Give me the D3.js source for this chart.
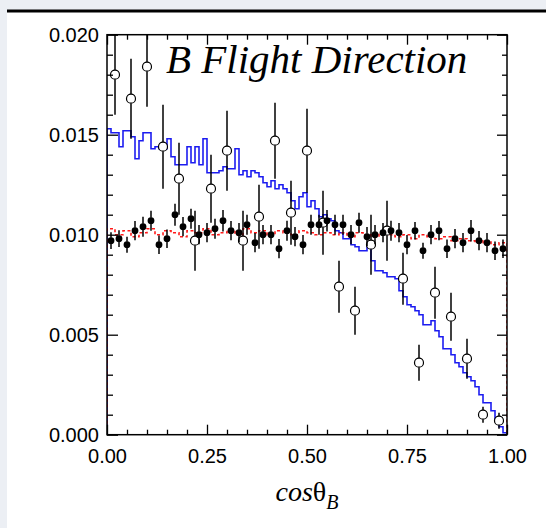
<!DOCTYPE html>
<html>
<head>
<meta charset="utf-8">
<script src="https://cdn.jsdelivr.net/npm/d3@7"></script>
<style>
  html, body { margin: 0; padding: 0; background: #ffffff; }
  svg { display: block; }
</style>
</head>
<body>
<svg id="chart" width="546" height="528"></svg>
<script>
// Simulated B flight-direction distribution (blue), 100 bins of width 0.01
const mcBins = [
  0.0153, 0.0151, 0.0151, 0.0144, 0.0152, 0.0152, 0.0149, 0.0138, 0.0147, 0.0151,
  0.0151, 0.0143, 0.0144, 0.0143, 0.0143, 0.0148, 0.0139, 0.0135, 0.0135, 0.0135,
  0.0144, 0.0136, 0.0144, 0.0135, 0.0148, 0.0131, 0.0131, 0.0131, 0.0132, 0.0134,
  0.0133, 0.0133, 0.0143, 0.0130, 0.0132, 0.0129, 0.0132, 0.0131, 0.0129, 0.0126,
  0.0124, 0.0127, 0.0123, 0.0125, 0.0123, 0.0121, 0.0117, 0.0113, 0.0119, 0.0121,
  0.0114, 0.0117, 0.0113, 0.0109, 0.0110, 0.0108, 0.0107, 0.0102, 0.0101, 0.0098,
  0.0098, 0.0095, 0.0094, 0.0092, 0.0092, 0.0095, 0.0087, 0.0082, 0.0082, 0.0081,
  0.0079, 0.0079, 0.0078, 0.0072, 0.0069, 0.0065, 0.0064, 0.0062, 0.0060, 0.0055,
  0.0055, 0.0057, 0.0052, 0.0049, 0.0043, 0.0043, 0.0040, 0.0036, 0.0034, 0.0031,
  0.0029, 0.0027, 0.0024, 0.0020, 0.0016, 0.0016, 0.0012, 0.0007, 0.0004, 0.0001
];

// Flat reference distribution (red dotted), 50 bins of width 0.02
const flatBins = [
  0.0103, 0.0100, 0.0102, 0.0099, 0.0101, 0.0103, 0.0100, 0.0102, 0.0101, 0.0099,
  0.0102, 0.0101, 0.0103, 0.0100, 0.0101, 0.0102, 0.0100, 0.0103, 0.0101, 0.0102,
  0.0100, 0.0102, 0.0101, 0.0100, 0.0102, 0.0101, 0.0100, 0.0101, 0.0100, 0.0101,
  0.0099, 0.0101, 0.0100, 0.0099, 0.0101, 0.0100, 0.0099, 0.0100, 0.0098, 0.0100,
  0.0099, 0.0098, 0.0099, 0.0097, 0.0098, 0.0097, 0.0096, 0.0097, 0.0095, 0.0096
];

// Filled points: 50 bins of width 0.02
const filledVals = [
  0.0097, 0.0098, 0.0095, 0.0102, 0.0104, 0.0107, 0.0095, 0.0098, 0.0110, 0.0104,
  0.0108, 0.0100, 0.0101, 0.0103, 0.0107, 0.0102, 0.0101, 0.0105, 0.0096, 0.0100,
  0.0100, 0.0093, 0.0102, 0.0099, 0.0095, 0.0105, 0.0105, 0.0107, 0.0105, 0.0105,
  0.0100, 0.0106, 0.0099, 0.0100, 0.0101, 0.0102, 0.0101, 0.0095, 0.0102, 0.0092,
  0.0100, 0.0102, 0.0093, 0.0098, 0.0096, 0.0102, 0.0097, 0.0096, 0.0092, 0.0093
];
const filledErrs = [
  0.00042, 0.00042, 0.00040, 0.00048, 0.00050, 0.00050, 0.00046, 0.00046, 0.00055, 0.00048,
  0.00050, 0.00048, 0.00048, 0.00050, 0.00054, 0.00048, 0.00048, 0.00050, 0.00048, 0.00048,
  0.00048, 0.00048, 0.00050, 0.00048, 0.00048, 0.00050, 0.00050, 0.00054, 0.00050, 0.00050,
  0.00048, 0.00050, 0.00048, 0.00048, 0.00048, 0.00050, 0.00048, 0.00048, 0.00044, 0.00040,
  0.00048, 0.00048, 0.00046, 0.00048, 0.00048, 0.00054, 0.00048, 0.00048, 0.00046, 0.00046
];

// Open points: 25 bins of width 0.04
const openVals = [
  0.0180, 0.0168, 0.0184, 0.0144, 0.0128, 0.0097, 0.0123, 0.0142, 0.0097, 0.0109,
  0.0147, 0.0111, 0.0142, 0.0106, 0.0074, 0.0062, 0.0095, 0.0102, 0.0078, 0.0036,
  0.0071, 0.0059, 0.0038, 0.0010, 0.0007
];
const openErrs = [
  0.0020, 0.0020, 0.0020, 0.0021, 0.0018, 0.0015, 0.0017, 0.0020, 0.0015, 0.0016,
  0.0019, 0.0016, 0.0021, 0.0016, 0.0013, 0.0012, 0.0015, 0.0015, 0.0013, 0.0009,
  0.0013, 0.0012, 0.0010, 0.0004, 0.0004
];

const xMajorTicks = [0, 0.25, 0.5, 0.75, 1];
const xTickLabels = ["0.00", "0.25", "0.50", "0.75", "1.00"];
const yMajorTicks = [0, 0.005, 0.010, 0.015, 0.020];
const yTickLabels = ["0.000", "0.005", "0.010", "0.015", "0.020"];
const titleText = "B Flight Direction";

const svg = d3.select("#chart");
const W = 546, H = 528;

// Page frame: grey margin, dark rule, white panel
svg.append("rect").attr("x", 0).attr("y", 0).attr("width", W).attr("height", H).attr("fill", "#eceff4");
svg.append("rect").attr("x", 7).attr("y", 10).attr("width", W - 7).attr("height", H - 10).attr("fill", "#ffffff");
svg.append("rect").attr("x", 7).attr("y", 9.5).attr("width", W - 7).attr("height", 3).attr("fill", "#000000");

const pLeft = 107, pRight = 507, pTop = 34.7, pBottom = 434.7;
const x = d3.scaleLinear().domain([0, 1]).range([pLeft, pRight]);
const y = d3.scaleLinear().domain([0, 0.02]).range([pBottom, pTop]);

svg.append("defs").append("clipPath").attr("id", "plotArea")
  .append("rect").attr("x", pLeft).attr("y", pTop).attr("width", pRight - pLeft).attr("height", pBottom - pTop);

const plot = svg.append("g").attr("clip-path", "url(#plotArea)");

// Step outline for a histogram with equal-width bins over [0,1]
function stepPoints(bins) {
  const n = bins.length, w = 1 / n;
  const pts = [[0, 0]];
  bins.forEach((v, i) => { pts.push([i * w, v]); pts.push([(i + 1) * w, v]); });
  pts.push([1, 0]);
  return pts;
}
const lineGen = d3.line().x(d => x(d[0])).y(d => y(d[1]));

plot.append("path").attr("d", lineGen(stepPoints(mcBins)))
  .attr("fill", "none").attr("stroke", "#1c1cf0").attr("stroke-width", 1.6);

plot.append("path").attr("d", lineGen(stepPoints(flatBins)))
  .attr("fill", "none").attr("stroke", "#ff1a1a").attr("stroke-width", 1.6)
  .attr("stroke-dasharray", "3,2.5");

// Error bars, drawn as two segments outside the marker
function errorBars(g, data, r) {
  g.selectAll(null).data(data).enter().append("line")
    .attr("x1", d => x(d.c)).attr("x2", d => x(d.c))
    .attr("y1", d => y(d.v + d.e)).attr("y2", d => Math.max(y(d.v) - r, y(d.v + d.e)))
    .attr("stroke", "#000").attr("stroke-width", 1.5);
  g.selectAll(null).data(data).enter().append("line")
    .attr("x1", d => x(d.c)).attr("x2", d => x(d.c))
    .attr("y1", d => Math.min(y(d.v) + r, y(d.v - d.e))).attr("y2", d => y(d.v - d.e))
    .attr("stroke", "#000").attr("stroke-width", 1.5);
}

const openData = openVals.map((v, i) => ({ c: (i + 0.5) / openVals.length, v, e: openErrs[i] }));
const filledData = filledVals.map((v, i) => ({ c: (i + 0.5) / filledVals.length, v, e: filledErrs[i] }));

const gOpen = plot.append("g");
errorBars(gOpen, openData, 4.5);
gOpen.selectAll("circle").data(openData).enter().append("circle")
  .attr("cx", d => x(d.c)).attr("cy", d => y(d.v)).attr("r", 4.5)
  .attr("fill", "#fff").attr("stroke", "#000").attr("stroke-width", 1.2);

const gFilled = plot.append("g");
errorBars(gFilled, filledData, 3);
gFilled.selectAll("circle").data(filledData).enter().append("circle")
  .attr("cx", d => x(d.c)).attr("cy", d => y(d.v)).attr("r", 3.4)
  .attr("fill", "#000");

// Axes: major and minor ticks pointing inward on all four sides
const xMinor = d3.range(0, 1.0001, 0.05).map(v => +v.toFixed(2)).filter(v => !xMajorTicks.includes(v));
const yMinor = d3.range(0, 0.02001, 0.001).map(v => +v.toFixed(3)).filter(v => !yMajorTicks.some(t => Math.abs(t - v) < 1e-9));

function styleAxis(g) {
  g.select(".domain").remove();
  g.selectAll(".tick line").attr("stroke", "#000").attr("stroke-width", 1.3);
  g.selectAll(".tick text").attr("fill", "#000")
    .style("font-family", "'Liberation Sans', Arial, sans-serif").style("font-size", "20px");
}

svg.append("g").attr("transform", `translate(0,${pBottom})`)
  .call(d3.axisBottom(x).tickValues(xMajorTicks).tickSize(-10).tickPadding(14)
    .tickFormat((d, i) => xTickLabels[i]))
  .call(styleAxis);
svg.append("g").attr("transform", `translate(0,${pBottom})`)
  .call(d3.axisBottom(x).tickValues(xMinor).tickSize(-5).tickFormat(""))
  .call(styleAxis);
svg.append("g").attr("transform", `translate(0,${pTop})`)
  .call(d3.axisTop(x).tickValues(xMajorTicks).tickSize(-10).tickFormat(""))
  .call(styleAxis);
svg.append("g").attr("transform", `translate(0,${pTop})`)
  .call(d3.axisTop(x).tickValues(xMinor).tickSize(-5).tickFormat(""))
  .call(styleAxis);

svg.append("g").attr("transform", `translate(${pLeft},0)`)
  .call(d3.axisLeft(y).tickValues(yMajorTicks).tickSize(-11).tickPadding(8)
    .tickFormat((d, i) => yTickLabels[i]))
  .call(styleAxis);
svg.append("g").attr("transform", `translate(${pLeft},0)`)
  .call(d3.axisLeft(y).tickValues(yMinor).tickSize(-6).tickFormat(""))
  .call(styleAxis);
svg.append("g").attr("transform", `translate(${pRight},0)`)
  .call(d3.axisRight(y).tickValues(yMajorTicks).tickSize(-10).tickFormat(""))
  .call(styleAxis);
svg.append("g").attr("transform", `translate(${pRight},0)`)
  .call(d3.axisRight(y).tickValues(yMinor).tickSize(-5).tickFormat(""))
  .call(styleAxis);

// Frame
svg.append("rect").attr("x", pLeft).attr("y", pTop).attr("width", pRight - pLeft).attr("height", pBottom - pTop)
  .attr("fill", "none").attr("stroke", "#000").attr("stroke-width", 1.5);

// Title inside the frame
svg.append("text").attr("x", 166).attr("y", 73)
  .style("font-family", "'Liberation Serif', 'Times New Roman', serif")
  .style("font-style", "italic").style("font-size", "41px").attr("fill", "#000")
  .text(titleText);

// Axis title: cos θ_B
const xt = svg.append("text").attr("x", x(0.5)).attr("y", 501).attr("text-anchor", "middle")
  .style("font-family", "'Liberation Serif', 'Times New Roman', serif").style("font-size", "28px").attr("fill", "#000");
xt.append("tspan").style("font-style", "italic").text("cos");
xt.append("tspan").text("θ");
xt.append("tspan").style("font-style", "italic").style("font-size", "20px").attr("dy", 8).text("B");
</script>
</body>
</html>
